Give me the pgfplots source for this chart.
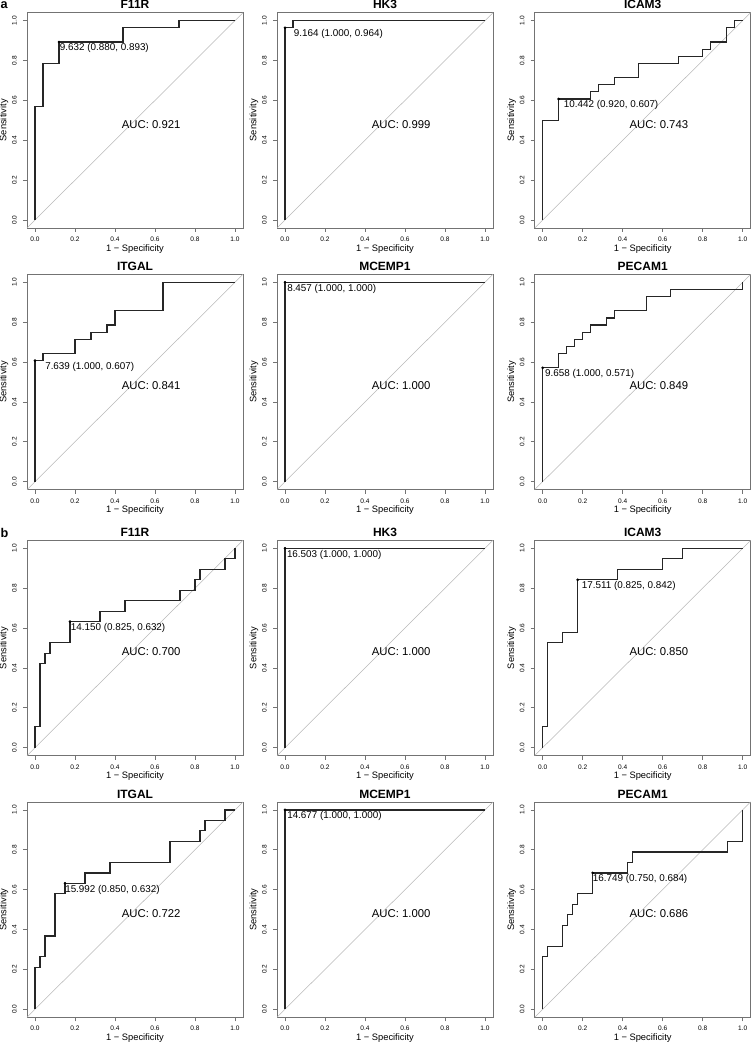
\documentclass[border=0pt]{standalone}
\usepackage{fontspec}
\setmainfont{Liberation Sans}
\usepackage{pgfplots}
\pgfplotsset{compat=1.18}
\pgfplotsset{
 every axis title/.style={at={(0.5,1)}, anchor=base, yshift=2.8pt, inner sep=0pt, font=\bfseries\fontsize{9}{10}\selectfont},
 roc/.style={
  scale only axis, width=162pt, height=161.5pt, anchor=south west,
  xmin=-0.04,xmax=1.04,ymin=-0.04,ymax=1.04,
  axis line style={draw=black!55, line width=0.5pt},
  tick pos=left, tick align=outside, major tick length=3pt,
  every tick/.style={black!55, line width=0.5pt},
  xtick={0,0.2,0.4,0.6,0.8,1}, ytick={0,0.2,0.4,0.6,0.8,1},
  /pgf/number format/assume math mode=true,
  /pgf/number format/fixed, /pgf/number format/fixed zerofill, /pgf/number format/precision=1,
  ticklabel style={font=\fontsize{4.9}{5}\selectfont, inner sep=0pt},
  xticklabel style={anchor=base},
  yticklabel style={rotate=90, anchor=base},
  xticklabel shift=7.2pt, yticklabel shift=4.8pt,
  xlabel={1 − Specificity}, ylabel={Sensitivity},
  xlabel style={at={([yshift=-17.5pt]axis description cs:0.5,0)}, anchor=base, inner sep=0pt, font=\fontsize{7}{8}\selectfont},
  ylabel style={at={([xshift=-15.5pt]axis description cs:0,0.5)}, anchor=base, inner sep=0pt, font=\fontsize{7}{8}\selectfont},
  clip=true,
 },
 curve/.style={black!85, line width=0.9pt, line join=miter},
 diag/.style={black!28, line width=0.4pt},
 thr/.style={only marks, mark=*, mark size=0.8pt, black},
}
\newcommand{\thrtext}[4]{\node[anchor=base west, inner sep=0pt, font=\fontsize{7.4}{8}\selectfont, xshift=#3pt, yshift=-6.75pt] at (axis cs:#1,#2) {#4};}
\newcommand{\auctext}[1]{\node[anchor=west, inner sep=0pt, font=\fontsize{8.5}{9}\selectfont] at (axis cs:0.433,0.48) {AUC: #1};}
\begin{document}
\begin{tikzpicture}
\useasboundingbox (0,0) rectangle (563.25pt,783.75pt);
\node[anchor=base west, inner sep=0pt, font=\bfseries\fontsize{9.5}{10}\selectfont] at (0.3pt,777.5pt) {a};
\node[anchor=base west, inner sep=0pt, font=\bfseries\fontsize{9.5}{10}\selectfont] at (0.3pt,380.6pt) {b};
% ---------- a, row 1 ----------
\begin{axis}[roc, at={(20.25pt,612.75pt)}, title={F11R}]
\addplot[diag] coordinates {(-0.04,-0.04)(1.04,1.04)};
\addplot[curve] coordinates {(0,0)(0,0.571)(0.04,0.571)(0.04,0.786)(0.12,0.786)(0.12,0.893)(0.44,0.893)(0.44,0.964)(0.72,0.964)(0.72,1)(1,1)};
\addplot[thr] coordinates {(0.12,0.893)};
\thrtext{0.12}{0.893}{0.5}{9.632 (0.880, 0.893)}
\auctext{0.921}
\end{axis}
\begin{axis}[roc, at={(207.75pt,612.75pt)}, title={HK3}]
\addplot[diag] coordinates {(-0.04,-0.04)(1.04,1.04)};
\addplot[curve] coordinates {(0,0)(0,0.964)(0.04,0.964)(0.04,1)(1,1)};
\addplot[thr] coordinates {(0,0.964)};
\thrtext{0}{0.964}{6.5}{9.164 (1.000, 0.964)}
\auctext{0.999}
\end{axis}
\begin{axis}[roc, at={(401pt,612.75pt)}, title={ICAM3}]
\addplot[diag] coordinates {(-0.04,-0.04)(1.04,1.04)};
\addplot[curve] coordinates {(0,0)(0,0.5)(0.08,0.5)(0.08,0.607)(0.24,0.607)(0.24,0.643)(0.28,0.643)(0.28,0.679)(0.36,0.679)(0.36,0.714)(0.48,0.714)(0.48,0.786)(0.68,0.786)(0.68,0.821)(0.80,0.821)(0.80,0.857)(0.84,0.857)(0.84,0.893)(0.92,0.893)(0.92,0.964)(0.96,0.964)(0.96,1)(1,1)};
\addplot[thr] coordinates {(0.08,0.607)};
\thrtext{0.08}{0.607}{3.75}{10.442 (0.920, 0.607)}
\auctext{0.743}
\end{axis}
% ---------- a, row 2 ----------
\begin{axis}[roc, at={(20.25pt,416.5pt)}, title={ITGAL}]
\addplot[diag] coordinates {(-0.04,-0.04)(1.04,1.04)};
\addplot[curve] coordinates {(0,0)(0,0.607)(0.04,0.607)(0.04,0.643)(0.2,0.643)(0.2,0.714)(0.28,0.714)(0.28,0.75)(0.36,0.75)(0.36,0.786)(0.4,0.786)(0.4,0.857)(0.64,0.857)(0.64,1)(1,1)};
\addplot[thr] coordinates {(0,0.607)};
\thrtext{0}{0.607}{7.5}{7.639 (1.000, 0.607)}
\auctext{0.841}
\end{axis}
\begin{axis}[roc, at={(207.75pt,416.5pt)}, title={MCEMP1}]
\addplot[diag] coordinates {(-0.04,-0.04)(1.04,1.04)};
\addplot[curve] coordinates {(0,0)(0,1)(1,1)};
\addplot[thr] coordinates {(0,1)};
\thrtext{0}{1}{1.5}{8.457 (1.000, 1.000)}
\auctext{1.000}
\end{axis}
\begin{axis}[roc, at={(401pt,416.5pt)}, title={PECAM1}]
\addplot[diag] coordinates {(-0.04,-0.04)(1.04,1.04)};
\addplot[curve] coordinates {(0,0)(0,0.571)(0.08,0.571)(0.08,0.643)(0.12,0.643)(0.12,0.679)(0.16,0.679)(0.16,0.714)(0.2,0.714)(0.2,0.75)(0.24,0.75)(0.24,0.786)(0.32,0.786)(0.32,0.821)(0.36,0.821)(0.36,0.857)(0.52,0.857)(0.52,0.929)(0.64,0.929)(0.64,0.964)(1,0.964)(1,1)};
\addplot[thr] coordinates {(0,0.571)};
\thrtext{0}{0.571}{1.7}{9.658 (1.000, 0.571)}
\auctext{0.849}
\end{axis}
% ---------- b, row 3 ----------
\begin{axis}[roc, at={(20.25pt,217pt)}, title={F11R}]
\addplot[diag] coordinates {(-0.04,-0.04)(1.04,1.04)};
\addplot[curve] coordinates {(0,0)(0,0.105)(0.025,0.105)(0.025,0.421)(0.05,0.421)(0.05,0.474)(0.075,0.474)(0.075,0.526)(0.175,0.526)(0.175,0.632)(0.325,0.632)(0.325,0.684)(0.45,0.684)(0.45,0.737)(0.725,0.737)(0.725,0.789)(0.8,0.789)(0.8,0.842)(0.825,0.842)(0.825,0.895)(0.95,0.895)(0.95,0.947)(1,0.947)(1,1)};
\addplot[thr] coordinates {(0.175,0.632)};
\thrtext{0.175}{0.632}{0.5}{14.150 (0.825, 0.632)}
\auctext{0.700}
\end{axis}
\begin{axis}[roc, at={(207.75pt,217pt)}, title={HK3}]
\addplot[diag] coordinates {(-0.04,-0.04)(1.04,1.04)};
\addplot[curve] coordinates {(0,0)(0,1)(1,1)};
\addplot[thr] coordinates {(0,1)};
\thrtext{0}{1}{1.3}{16.503 (1.000, 1.000)}
\auctext{1.000}
\end{axis}
\begin{axis}[roc, at={(401pt,217pt)}, title={ICAM3}]
\addplot[diag] coordinates {(-0.04,-0.04)(1.04,1.04)};
\addplot[curve] coordinates {(0,0)(0,0.105)(0.025,0.105)(0.025,0.526)(0.1,0.526)(0.1,0.579)(0.175,0.579)(0.175,0.842)(0.375,0.842)(0.375,0.895)(0.6,0.895)(0.6,0.947)(0.7,0.947)(0.7,1)(1,1)};
\addplot[thr] coordinates {(0.175,0.842)};
\thrtext{0.175}{0.842}{3}{17.511 (0.825, 0.842)}
\auctext{0.850}
\end{axis}
% ---------- b, row 4 ----------
\begin{axis}[roc, at={(20.25pt,20.8pt)}, title={ITGAL}]
\addplot[diag] coordinates {(-0.04,-0.04)(1.04,1.04)};
\addplot[curve] coordinates {(0,0)(0,0.211)(0.025,0.211)(0.025,0.263)(0.05,0.263)(0.05,0.368)(0.1,0.368)(0.1,0.579)(0.15,0.579)(0.15,0.632)(0.25,0.632)(0.25,0.684)(0.375,0.684)(0.375,0.737)(0.675,0.737)(0.675,0.842)(0.825,0.842)(0.825,0.895)(0.85,0.895)(0.85,0.947)(0.95,0.947)(0.95,1)(1,1)};
\addplot[thr] coordinates {(0.15,0.632)};
\thrtext{0.15}{0.632}{0}{15.992 (0.850, 0.632)}
\auctext{0.722}
\end{axis}
\begin{axis}[roc, at={(207.75pt,20.8pt)}, title={MCEMP1}]
\addplot[diag] coordinates {(-0.04,-0.04)(1.04,1.04)};
\addplot[curve] coordinates {(0,0)(0,1)(1,1)};
\addplot[thr] coordinates {(0,1)};
\thrtext{0}{1}{1.5}{14.677 (1.000, 1.000)}
\auctext{1.000}
\end{axis}
\begin{axis}[roc, at={(401pt,20.8pt)}, title={PECAM1}]
\addplot[diag] coordinates {(-0.04,-0.04)(1.04,1.04)};
\addplot[curve] coordinates {(0,0)(0,0.263)(0.025,0.263)(0.025,0.316)(0.1,0.316)(0.1,0.421)(0.125,0.421)(0.125,0.474)(0.15,0.474)(0.15,0.526)(0.175,0.526)(0.175,0.579)(0.25,0.579)(0.25,0.684)(0.425,0.684)(0.425,0.737)(0.45,0.737)(0.45,0.789)(0.925,0.789)(0.925,0.842)(1,0.842)(1,1)};
\addplot[thr] coordinates {(0.25,0.684)};
\thrtext{0.25}{0.684}{0}{16.749 (0.750, 0.684)}
\auctext{0.686}
\end{axis}
\end{tikzpicture}
\end{document}
